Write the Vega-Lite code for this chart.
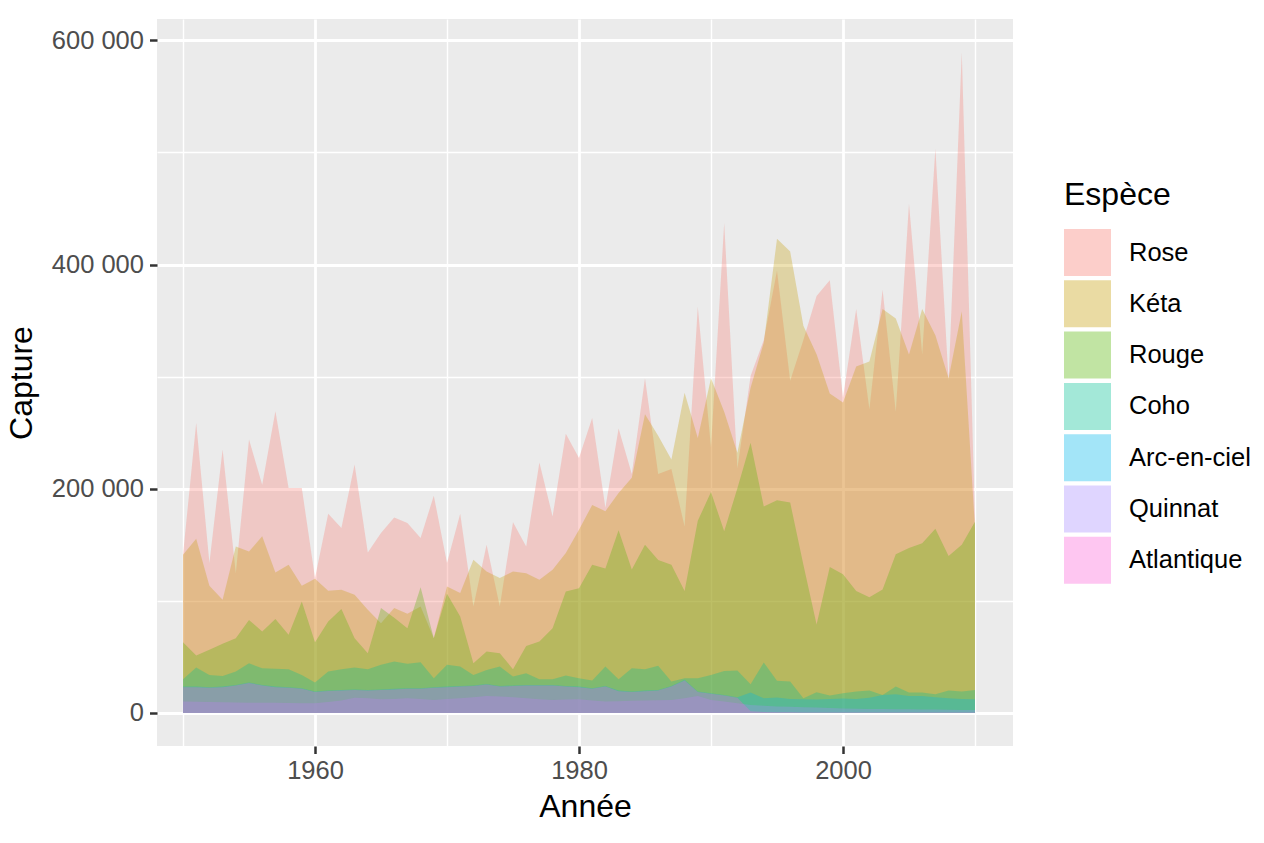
{
  "$schema": "https://vega.github.io/schema/vega-lite/v6.json",
  "width": 856,
  "height": 727,
  "autosize": {"type": "none"},
  "padding": {"left": 157, "top": 19, "right": 251, "bottom": 97},
  "background": "white",
  "config": {
    "font": "Liberation Sans",
    "view": {"fill": "#EBEBEB", "stroke": null}
  },
  "datasets": {
    "catch": [
{"annee":1950,"espece":"Rose","capture":141000},{"annee":1951,"espece":"Rose","capture":258700},{"annee":1952,"espece":"Rose","capture":133700},{"annee":1953,"espece":"Rose","capture":234900},{"annee":1954,"espece":"Rose","capture":124700},{"annee":1955,"espece":"Rose","capture":243800},{"annee":1956,"espece":"Rose","capture":203600},{"annee":1957,"espece":"Rose","capture":269100},{"annee":1958,"espece":"Rose","capture":200600},{"annee":1959,"espece":"Rose","capture":200600},
{"annee":1960,"espece":"Rose","capture":120300},{"annee":1961,"espece":"Rose","capture":177700},{"annee":1962,"espece":"Rose","capture":164900},{"annee":1963,"espece":"Rose","capture":221500},{"annee":1964,"espece":"Rose","capture":143200},{"annee":1965,"espece":"Rose","capture":160500},{"annee":1966,"espece":"Rose","capture":174400},{"annee":1967,"espece":"Rose","capture":169400},{"annee":1968,"espece":"Rose","capture":156000},{"annee":1969,"espece":"Rose","capture":193800},
{"annee":1970,"espece":"Rose","capture":133700},{"annee":1971,"espece":"Rose","capture":177700},{"annee":1972,"espece":"Rose","capture":94900},{"annee":1973,"espece":"Rose","capture":150000},{"annee":1974,"espece":"Rose","capture":94900},{"annee":1975,"espece":"Rose","capture":170000},{"annee":1976,"espece":"Rose","capture":148500},{"annee":1977,"espece":"Rose","capture":223500},{"annee":1978,"espece":"Rose","capture":175300},{"annee":1979,"espece":"Rose","capture":249100},
{"annee":1980,"espece":"Rose","capture":227400},{"annee":1981,"espece":"Rose","capture":263100},{"annee":1982,"espece":"Rose","capture":183000},{"annee":1983,"espece":"Rose","capture":253700},{"annee":1984,"espece":"Rose","capture":213200},{"annee":1985,"espece":"Rose","capture":298500},{"annee":1986,"espece":"Rose","capture":213200},{"annee":1987,"espece":"Rose","capture":217500},{"annee":1988,"espece":"Rose","capture":166300},{"annee":1989,"espece":"Rose","capture":362400},
{"annee":1990,"espece":"Rose","capture":236700},{"annee":1991,"espece":"Rose","capture":437000},{"annee":1992,"espece":"Rose","capture":218000},{"annee":1993,"espece":"Rose","capture":300600},{"annee":1994,"espece":"Rose","capture":332600},{"annee":1995,"espece":"Rose","capture":394400},{"annee":1996,"espece":"Rose","capture":296300},{"annee":1997,"espece":"Rose","capture":332600},{"annee":1998,"espece":"Rose","capture":371800},{"annee":1999,"espece":"Rose","capture":385900},
{"annee":2000,"espece":"Rose","capture":281400},{"annee":2001,"espece":"Rose","capture":360300},{"annee":2002,"espece":"Rose","capture":270800},{"annee":2003,"espece":"Rose","capture":377400},{"annee":2004,"espece":"Rose","capture":268600},{"annee":2005,"espece":"Rose","capture":454100},{"annee":2006,"espece":"Rose","capture":319800},{"annee":2007,"espece":"Rose","capture":503200},{"annee":2008,"espece":"Rose","capture":296300},{"annee":2009,"espece":"Rose","capture":589300},{"annee":2010,"espece":"Rose","capture":172700},

{"annee":1950,"espece":"Kéta","capture":141000},{"annee":1951,"espece":"Kéta","capture":155400},{"annee":1952,"espece":"Kéta","capture":113400},{"annee":1953,"espece":"Kéta","capture":100900},{"annee":1954,"espece":"Kéta","capture":148500},{"annee":1955,"espece":"Kéta","capture":144000},{"annee":1956,"espece":"Kéta","capture":157500},{"annee":1957,"espece":"Kéta","capture":125300},{"annee":1958,"espece":"Kéta","capture":132200},{"annee":1959,"espece":"Kéta","capture":113400},
{"annee":1960,"espece":"Kéta","capture":119700},{"annee":1961,"espece":"Kéta","capture":108900},{"annee":1962,"espece":"Kéta","capture":109800},{"annee":1963,"espece":"Kéta","capture":105400},{"annee":1964,"espece":"Kéta","capture":92000},{"annee":1965,"espece":"Kéta","capture":80100},{"annee":1966,"espece":"Kéta","capture":93500},{"annee":1967,"espece":"Kéta","capture":88400},{"annee":1968,"espece":"Kéta","capture":94900},{"annee":1969,"espece":"Kéta","capture":66700},
{"annee":1970,"espece":"Kéta","capture":112800},{"annee":1971,"espece":"Kéta","capture":106900},{"annee":1972,"espece":"Kéta","capture":136600},{"annee":1973,"espece":"Kéta","capture":126200},{"annee":1974,"espece":"Kéta","capture":120300},{"annee":1975,"espece":"Kéta","capture":126200},{"annee":1976,"espece":"Kéta","capture":124700},{"annee":1977,"espece":"Kéta","capture":118800},{"annee":1978,"espece":"Kéta","capture":127700},{"annee":1979,"espece":"Kéta","capture":142600},
{"annee":1980,"espece":"Kéta","capture":163400},{"annee":1981,"espece":"Kéta","capture":185500},{"annee":1982,"espece":"Kéta","capture":180000},{"annee":1983,"espece":"Kéta","capture":196100},{"annee":1984,"espece":"Kéta","capture":209800},{"annee":1985,"espece":"Kéta","capture":266500},{"annee":1986,"espece":"Kéta","capture":247300},{"annee":1987,"espece":"Kéta","capture":226000},{"annee":1988,"espece":"Kéta","capture":285700},{"annee":1989,"espece":"Kéta","capture":245200},
{"annee":1990,"espece":"Kéta","capture":298500},{"annee":1991,"espece":"Kéta","capture":268600},{"annee":1992,"espece":"Kéta","capture":232000},{"annee":1993,"espece":"Kéta","capture":290000},{"annee":1994,"espece":"Kéta","capture":330500},{"annee":1995,"espece":"Kéta","capture":423000},{"annee":1996,"espece":"Kéta","capture":411500},{"annee":1997,"espece":"Kéta","capture":345400},{"annee":1998,"espece":"Kéta","capture":320000},{"annee":1999,"espece":"Kéta","capture":285000},
{"annee":2000,"espece":"Kéta","capture":277000},{"annee":2001,"espece":"Kéta","capture":309100},{"annee":2002,"espece":"Kéta","capture":313400},{"annee":2003,"espece":"Kéta","capture":360300},{"annee":2004,"espece":"Kéta","capture":351800},{"annee":2005,"espece":"Kéta","capture":319800},{"annee":2006,"espece":"Kéta","capture":360300},{"annee":2007,"espece":"Kéta","capture":336900},{"annee":2008,"espece":"Kéta","capture":298500},{"annee":2009,"espece":"Kéta","capture":358200},{"annee":2010,"espece":"Kéta","capture":165000},

{"annee":1950,"espece":"Rouge","capture":63100},{"annee":1951,"espece":"Rouge","capture":51200},{"annee":1952,"espece":"Rouge","capture":56300},{"annee":1953,"espece":"Rouge","capture":61600},{"annee":1954,"espece":"Rouge","capture":66700},{"annee":1955,"espece":"Rouge","capture":83000},{"annee":1956,"espece":"Rouge","capture":72600},{"annee":1957,"espece":"Rouge","capture":83700},{"annee":1958,"espece":"Rouge","capture":69700},{"annee":1959,"espece":"Rouge","capture":99400},
{"annee":1960,"espece":"Rouge","capture":63100},{"annee":1961,"espece":"Rouge","capture":81500},{"annee":1962,"espece":"Rouge","capture":92600},{"annee":1963,"espece":"Rouge","capture":66700},{"annee":1964,"espece":"Rouge","capture":53300},{"annee":1965,"espece":"Rouge","capture":93500},{"annee":1966,"espece":"Rouge","capture":85000},{"annee":1967,"espece":"Rouge","capture":75600},{"annee":1968,"espece":"Rouge","capture":112200},{"annee":1969,"espece":"Rouge","capture":66700},
{"annee":1970,"espece":"Rouge","capture":106300},{"annee":1971,"espece":"Rouge","capture":86000},{"annee":1972,"espece":"Rouge","capture":44400},{"annee":1973,"espece":"Rouge","capture":54800},{"annee":1974,"espece":"Rouge","capture":53300},{"annee":1975,"espece":"Rouge","capture":39000},{"annee":1976,"espece":"Rouge","capture":59800},{"annee":1977,"espece":"Rouge","capture":63700},{"annee":1978,"espece":"Rouge","capture":75600},{"annee":1979,"espece":"Rouge","capture":108300},
{"annee":1980,"espece":"Rouge","capture":111300},{"annee":1981,"espece":"Rouge","capture":132200},{"annee":1982,"espece":"Rouge","capture":128800},{"annee":1983,"espece":"Rouge","capture":162900},{"annee":1984,"espece":"Rouge","capture":127900},{"annee":1985,"espece":"Rouge","capture":150100},{"annee":1986,"espece":"Rouge","capture":136500},{"annee":1987,"espece":"Rouge","capture":132200},{"annee":1988,"espece":"Rouge","capture":108700},{"annee":1989,"espece":"Rouge","capture":171400},
{"annee":1990,"espece":"Rouge","capture":197000},{"annee":1991,"espece":"Rouge","capture":162000},{"annee":1992,"espece":"Rouge","capture":200400},{"annee":1993,"espece":"Rouge","capture":240900},{"annee":1994,"espece":"Rouge","capture":184200},{"annee":1995,"espece":"Rouge","capture":189700},{"annee":1996,"espece":"Rouge","capture":187600},{"annee":1997,"espece":"Rouge","capture":132200},{"annee":1998,"espece":"Rouge","capture":78900},{"annee":1999,"espece":"Rouge","capture":130100},
{"annee":2000,"espece":"Rouge","capture":123700},{"annee":2001,"espece":"Rouge","capture":108700},{"annee":2002,"espece":"Rouge","capture":103200},{"annee":2003,"espece":"Rouge","capture":110000},{"annee":2004,"espece":"Rouge","capture":141600},{"annee":2005,"espece":"Rouge","capture":147100},{"annee":2006,"espece":"Rouge","capture":151400},{"annee":2007,"espece":"Rouge","capture":164200},{"annee":2008,"espece":"Rouge","capture":139900},{"annee":2009,"espece":"Rouge","capture":150100},{"annee":2010,"espece":"Rouge","capture":170600},

{"annee":1950,"espece":"Coho","capture":30100},{"annee":1951,"espece":"Coho","capture":40500},{"annee":1952,"espece":"Coho","capture":33900},{"annee":1953,"espece":"Coho","capture":33000},{"annee":1954,"espece":"Coho","capture":36900},{"annee":1955,"espece":"Coho","capture":44300},{"annee":1956,"espece":"Coho","capture":39900},{"annee":1957,"espece":"Coho","capture":39300},{"annee":1958,"espece":"Coho","capture":39000},{"annee":1959,"espece":"Coho","capture":33900},
{"annee":1960,"espece":"Coho","capture":27100},{"annee":1961,"espece":"Coho","capture":36900},{"annee":1962,"espece":"Coho","capture":39000},{"annee":1963,"espece":"Coho","capture":40500},{"annee":1964,"espece":"Coho","capture":39000},{"annee":1965,"espece":"Coho","capture":42900},{"annee":1966,"espece":"Coho","capture":45800},{"annee":1967,"espece":"Coho","capture":43800},{"annee":1968,"espece":"Coho","capture":45200},{"annee":1969,"espece":"Coho","capture":31000},
{"annee":1970,"espece":"Coho","capture":42900},{"annee":1971,"espece":"Coho","capture":41400},{"annee":1972,"espece":"Coho","capture":33900},{"annee":1973,"espece":"Coho","capture":38400},{"annee":1974,"espece":"Coho","capture":41400},{"annee":1975,"espece":"Coho","capture":32400},{"annee":1976,"espece":"Coho","capture":35400},{"annee":1977,"espece":"Coho","capture":30100},{"annee":1978,"espece":"Coho","capture":30100},{"annee":1979,"espece":"Coho","capture":33300},
{"annee":1980,"espece":"Coho","capture":31000},{"annee":1981,"espece":"Coho","capture":28900},{"annee":1982,"espece":"Coho","capture":41400},{"annee":1983,"espece":"Coho","capture":30100},{"annee":1984,"espece":"Coho","capture":39900},{"annee":1985,"espece":"Coho","capture":39000},{"annee":1986,"espece":"Coho","capture":42000},{"annee":1987,"espece":"Coho","capture":28000},{"annee":1988,"espece":"Coho","capture":31000},{"annee":1989,"espece":"Coho","capture":31000},
{"annee":1990,"espece":"Coho","capture":33900},{"annee":1991,"espece":"Coho","capture":37500},{"annee":1992,"espece":"Coho","capture":37800},{"annee":1993,"espece":"Coho","capture":25600},{"annee":1994,"espece":"Coho","capture":44900},{"annee":1995,"espece":"Coho","capture":28600},{"annee":1996,"espece":"Coho","capture":28000},{"annee":1997,"espece":"Coho","capture":13100},{"annee":1998,"espece":"Coho","capture":18500},{"annee":1999,"espece":"Coho","capture":15500},
{"annee":2000,"espece":"Coho","capture":17600},{"annee":2001,"espece":"Coho","capture":19100},{"annee":2002,"espece":"Coho","capture":19900},{"annee":2003,"espece":"Coho","capture":16100},{"annee":2004,"espece":"Coho","capture":23500},{"annee":2005,"espece":"Coho","capture":18200},{"annee":2006,"espece":"Coho","capture":18200},{"annee":2007,"espece":"Coho","capture":16700},{"annee":2008,"espece":"Coho","capture":19900},{"annee":2009,"espece":"Coho","capture":19100},{"annee":2010,"espece":"Coho","capture":20500},

{"annee":1950,"espece":"Arc-en-ciel","capture":23500},{"annee":1951,"espece":"Arc-en-ciel","capture":23500},{"annee":1952,"espece":"Arc-en-ciel","capture":23000},{"annee":1953,"espece":"Arc-en-ciel","capture":23500},{"annee":1954,"espece":"Arc-en-ciel","capture":25000},{"annee":1955,"espece":"Arc-en-ciel","capture":27100},{"annee":1956,"espece":"Arc-en-ciel","capture":25000},{"annee":1957,"espece":"Arc-en-ciel","capture":23500},{"annee":1958,"espece":"Arc-en-ciel","capture":23000},{"annee":1959,"espece":"Arc-en-ciel","capture":22000},
{"annee":1960,"espece":"Arc-en-ciel","capture":19100},{"annee":1961,"espece":"Arc-en-ciel","capture":20000},{"annee":1962,"espece":"Arc-en-ciel","capture":20500},{"annee":1963,"espece":"Arc-en-ciel","capture":21000},{"annee":1964,"espece":"Arc-en-ciel","capture":20500},{"annee":1965,"espece":"Arc-en-ciel","capture":21000},{"annee":1966,"espece":"Arc-en-ciel","capture":21500},{"annee":1967,"espece":"Arc-en-ciel","capture":22000},{"annee":1968,"espece":"Arc-en-ciel","capture":22000},{"annee":1969,"espece":"Arc-en-ciel","capture":23000},
{"annee":1970,"espece":"Arc-en-ciel","capture":23500},{"annee":1971,"espece":"Arc-en-ciel","capture":24000},{"annee":1972,"espece":"Arc-en-ciel","capture":24500},{"annee":1973,"espece":"Arc-en-ciel","capture":25900},{"annee":1974,"espece":"Arc-en-ciel","capture":24000},{"annee":1975,"espece":"Arc-en-ciel","capture":24500},{"annee":1976,"espece":"Arc-en-ciel","capture":25000},{"annee":1977,"espece":"Arc-en-ciel","capture":25000},{"annee":1978,"espece":"Arc-en-ciel","capture":25000},{"annee":1979,"espece":"Arc-en-ciel","capture":24000},
{"annee":1980,"espece":"Arc-en-ciel","capture":23500},{"annee":1981,"espece":"Arc-en-ciel","capture":22000},{"annee":1982,"espece":"Arc-en-ciel","capture":24100},{"annee":1983,"espece":"Arc-en-ciel","capture":19900},{"annee":1984,"espece":"Arc-en-ciel","capture":19100},{"annee":1985,"espece":"Arc-en-ciel","capture":19900},{"annee":1986,"espece":"Arc-en-ciel","capture":20500},{"annee":1987,"espece":"Arc-en-ciel","capture":24100},{"annee":1988,"espece":"Arc-en-ciel","capture":29500},{"annee":1989,"espece":"Arc-en-ciel","capture":19100},
{"annee":1990,"espece":"Arc-en-ciel","capture":17600},{"annee":1991,"espece":"Arc-en-ciel","capture":16100},{"annee":1992,"espece":"Arc-en-ciel","capture":14000},{"annee":1993,"espece":"Arc-en-ciel","capture":18200},{"annee":1994,"espece":"Arc-en-ciel","capture":13100},{"annee":1995,"espece":"Arc-en-ciel","capture":13700},{"annee":1996,"espece":"Arc-en-ciel","capture":12500},{"annee":1997,"espece":"Arc-en-ciel","capture":12200},{"annee":1998,"espece":"Arc-en-ciel","capture":12000},{"annee":1999,"espece":"Arc-en-ciel","capture":12500},
{"annee":2000,"espece":"Arc-en-ciel","capture":12800},{"annee":2001,"espece":"Arc-en-ciel","capture":12500},{"annee":2002,"espece":"Arc-en-ciel","capture":13500},{"annee":2003,"espece":"Arc-en-ciel","capture":16100},{"annee":2004,"espece":"Arc-en-ciel","capture":16700},{"annee":2005,"espece":"Arc-en-ciel","capture":15000},{"annee":2006,"espece":"Arc-en-ciel","capture":15000},{"annee":2007,"espece":"Arc-en-ciel","capture":14000},{"annee":2008,"espece":"Arc-en-ciel","capture":13000},{"annee":2009,"espece":"Arc-en-ciel","capture":12500},{"annee":2010,"espece":"Arc-en-ciel","capture":12200},

{"annee":1950,"espece":"Quinnat","capture":10100},{"annee":1951,"espece":"Quinnat","capture":10000},{"annee":1952,"espece":"Quinnat","capture":9800},{"annee":1953,"espece":"Quinnat","capture":9500},{"annee":1954,"espece":"Quinnat","capture":9200},{"annee":1955,"espece":"Quinnat","capture":9000},{"annee":1956,"espece":"Quinnat","capture":9000},{"annee":1957,"espece":"Quinnat","capture":9000},{"annee":1958,"espece":"Quinnat","capture":8800},{"annee":1959,"espece":"Quinnat","capture":8700},
{"annee":1960,"espece":"Quinnat","capture":8600},{"annee":1961,"espece":"Quinnat","capture":9800},{"annee":1962,"espece":"Quinnat","capture":11000},{"annee":1963,"espece":"Quinnat","capture":13500},{"annee":1964,"espece":"Quinnat","capture":13000},{"annee":1965,"espece":"Quinnat","capture":12200},{"annee":1966,"espece":"Quinnat","capture":12500},{"annee":1967,"espece":"Quinnat","capture":13100},{"annee":1968,"espece":"Quinnat","capture":12500},{"annee":1969,"espece":"Quinnat","capture":11600},
{"annee":1970,"espece":"Quinnat","capture":12500},{"annee":1971,"espece":"Quinnat","capture":13100},{"annee":1972,"espece":"Quinnat","capture":14000},{"annee":1973,"espece":"Quinnat","capture":15200},{"annee":1974,"espece":"Quinnat","capture":14600},{"annee":1975,"espece":"Quinnat","capture":14000},{"annee":1976,"espece":"Quinnat","capture":13100},{"annee":1977,"espece":"Quinnat","capture":12300},{"annee":1978,"espece":"Quinnat","capture":11600},{"annee":1979,"espece":"Quinnat","capture":12000},
{"annee":1980,"espece":"Quinnat","capture":12200},{"annee":1981,"espece":"Quinnat","capture":11000},{"annee":1982,"espece":"Quinnat","capture":10100},{"annee":1983,"espece":"Quinnat","capture":10500},{"annee":1984,"espece":"Quinnat","capture":10800},{"annee":1985,"espece":"Quinnat","capture":11000},{"annee":1986,"espece":"Quinnat","capture":11200},{"annee":1987,"espece":"Quinnat","capture":11600},{"annee":1988,"espece":"Quinnat","capture":13000},{"annee":1989,"espece":"Quinnat","capture":15200},
{"annee":1990,"espece":"Quinnat","capture":11600},{"annee":1991,"espece":"Quinnat","capture":10100},{"annee":1992,"espece":"Quinnat","capture":8600},{"annee":1993,"espece":"Quinnat","capture":7100},{"annee":1994,"espece":"Quinnat","capture":6500},{"annee":1995,"espece":"Quinnat","capture":5700},{"annee":1996,"espece":"Quinnat","capture":5500},{"annee":1997,"espece":"Quinnat","capture":5000},{"annee":1998,"espece":"Quinnat","capture":4800},{"annee":1999,"espece":"Quinnat","capture":4500},
{"annee":2000,"espece":"Quinnat","capture":4000},{"annee":2001,"espece":"Quinnat","capture":3800},{"annee":2002,"espece":"Quinnat","capture":3600},{"annee":2003,"espece":"Quinnat","capture":3400},{"annee":2004,"espece":"Quinnat","capture":3300},{"annee":2005,"espece":"Quinnat","capture":3200},{"annee":2006,"espece":"Quinnat","capture":3100},{"annee":2007,"espece":"Quinnat","capture":3000},{"annee":2008,"espece":"Quinnat","capture":2800},{"annee":2009,"espece":"Quinnat","capture":2700},{"annee":2010,"espece":"Quinnat","capture":2700},

{"annee":1950,"espece":"Atlantique","capture":23000},{"annee":1951,"espece":"Atlantique","capture":23000},{"annee":1952,"espece":"Atlantique","capture":22500},{"annee":1953,"espece":"Atlantique","capture":23000},{"annee":1954,"espece":"Atlantique","capture":24500},{"annee":1955,"espece":"Atlantique","capture":26600},{"annee":1956,"espece":"Atlantique","capture":24500},{"annee":1957,"espece":"Atlantique","capture":23000},{"annee":1958,"espece":"Atlantique","capture":22500},{"annee":1959,"espece":"Atlantique","capture":21500},
{"annee":1960,"espece":"Atlantique","capture":18600},{"annee":1961,"espece":"Atlantique","capture":19500},{"annee":1962,"espece":"Atlantique","capture":20000},{"annee":1963,"espece":"Atlantique","capture":20500},{"annee":1964,"espece":"Atlantique","capture":20000},{"annee":1965,"espece":"Atlantique","capture":20500},{"annee":1966,"espece":"Atlantique","capture":21000},{"annee":1967,"espece":"Atlantique","capture":21500},{"annee":1968,"espece":"Atlantique","capture":21500},{"annee":1969,"espece":"Atlantique","capture":22500},
{"annee":1970,"espece":"Atlantique","capture":23000},{"annee":1971,"espece":"Atlantique","capture":23500},{"annee":1972,"espece":"Atlantique","capture":24000},{"annee":1973,"espece":"Atlantique","capture":25400},{"annee":1974,"espece":"Atlantique","capture":23500},{"annee":1975,"espece":"Atlantique","capture":24000},{"annee":1976,"espece":"Atlantique","capture":24500},{"annee":1977,"espece":"Atlantique","capture":24500},{"annee":1978,"espece":"Atlantique","capture":24500},{"annee":1979,"espece":"Atlantique","capture":23500},
{"annee":1980,"espece":"Atlantique","capture":23000},{"annee":1981,"espece":"Atlantique","capture":21500},{"annee":1982,"espece":"Atlantique","capture":23600},{"annee":1983,"espece":"Atlantique","capture":19400},{"annee":1984,"espece":"Atlantique","capture":18600},{"annee":1985,"espece":"Atlantique","capture":19400},{"annee":1986,"espece":"Atlantique","capture":20000},{"annee":1987,"espece":"Atlantique","capture":23600},{"annee":1988,"espece":"Atlantique","capture":29000},{"annee":1989,"espece":"Atlantique","capture":18600},
{"annee":1990,"espece":"Atlantique","capture":17100},{"annee":1991,"espece":"Atlantique","capture":15600},{"annee":1992,"espece":"Atlantique","capture":13500},{"annee":1993,"espece":"Atlantique","capture":1500},{"annee":1994,"espece":"Atlantique","capture":800},{"annee":1995,"espece":"Atlantique","capture":500},{"annee":1996,"espece":"Atlantique","capture":500},{"annee":1997,"espece":"Atlantique","capture":400},{"annee":1998,"espece":"Atlantique","capture":400},{"annee":1999,"espece":"Atlantique","capture":400},
{"annee":2000,"espece":"Atlantique","capture":400},{"annee":2001,"espece":"Atlantique","capture":400},{"annee":2002,"espece":"Atlantique","capture":400},{"annee":2003,"espece":"Atlantique","capture":400},{"annee":2004,"espece":"Atlantique","capture":400},{"annee":2005,"espece":"Atlantique","capture":400},{"annee":2006,"espece":"Atlantique","capture":400},{"annee":2007,"espece":"Atlantique","capture":400},{"annee":2008,"espece":"Atlantique","capture":400},{"annee":2009,"espece":"Atlantique","capture":400},{"annee":2010,"espece":"Atlantique","capture":400}
    ]
  },
  "data": {"name": "catch"},
  "mark": {"type": "area", "fillOpacity": 0.3, "strokeWidth": 0, "clip": true},
  "encoding": {
    "x": {
      "field": "annee",
      "type": "quantitative",
      "title": "Année",
      "scale": {"domain": [1948.03, 2012.88], "nice": false, "zero": false},
      "axis": {
        "values": [1950, 1960, 1970, 1980, 1990, 2000, 2010],
        "labelExpr": "datum.value % 20 === 0 ? datum.value + '' : ''",
        "labelOverlap": false,
        "labelFontSize": 25.5,
        "labelColor": "#4D4D4D",
        "labelPadding": 5,
        "tickSize": 7.5,
        "tickWidth": 2.5,
        "tickColor": {"condition": {"test": "datum.value % 20 === 0", "value": "#333333"}, "value": "transparent"},
        "domain": false,
        "gridColor": "white",
        "gridOpacity": 1,
        "gridWidth": {"condition": {"test": "datum.value % 20 === 0", "value": 2.8}, "value": 1.4},
        "titleFontSize": 32,
        "titleFontWeight": "normal",
        "titleColor": "black",
        "titlePadding": 7
      }
    },
    "y": {
      "field": "capture",
      "type": "quantitative",
      "stack": null,
      "title": "Capture",
      "scale": {"domain": [-29500, 619000], "nice": false, "zero": false},
      "axis": {
        "values": [0, 100000, 200000, 300000, 400000, 500000, 600000],
        "labelExpr": "datum.value % 200000 === 0 ? (datum.value === 0 ? '0' : format(datum.value / 1000, 'd') + ' 000') : ''",
        "labelOverlap": false,
        "labelFontSize": 25.5,
        "labelColor": "#4D4D4D",
        "labelPadding": 6,
        "tickSize": 7.5,
        "tickWidth": 2.5,
        "tickColor": {"condition": {"test": "datum.value % 200000 === 0", "value": "#333333"}, "value": "transparent"},
        "domain": false,
        "gridColor": "white",
        "gridOpacity": 1,
        "gridWidth": {"condition": {"test": "datum.value % 200000 === 0", "value": 2.8}, "value": 1.4},
        "titleFontSize": 32,
        "titleFontWeight": "normal",
        "titleColor": "black",
        "titlePadding": 13
      }
    },
    "color": {
      "field": "espece",
      "type": "nominal",
      "title": "Espèce",
      "scale": {
        "domain": ["Rose", "Kéta", "Rouge", "Coho", "Arc-en-ciel", "Quinnat", "Atlantique"],
        "range": ["#F8766D", "#C49A00", "#53B400", "#00C094", "#00B6EB", "#A58AFF", "#FB61D7"]
      },
      "legend": {
        "orient": "none",
        "legendX": 907,
        "legendY": 161,
        "symbolType": "square",
        "symbolSize": 2209,
        "symbolStrokeWidth": 0,
        "symbolOpacity": 0.36,
        "rowPadding": 4.3,
        "labelFontSize": 25.5,
        "labelColor": "black",
        "labelOffset": 18,
        "titleFontSize": 32,
        "titleFontWeight": "normal",
        "titleColor": "black",
        "titlePadding": 17
      }
    }
  }
}
